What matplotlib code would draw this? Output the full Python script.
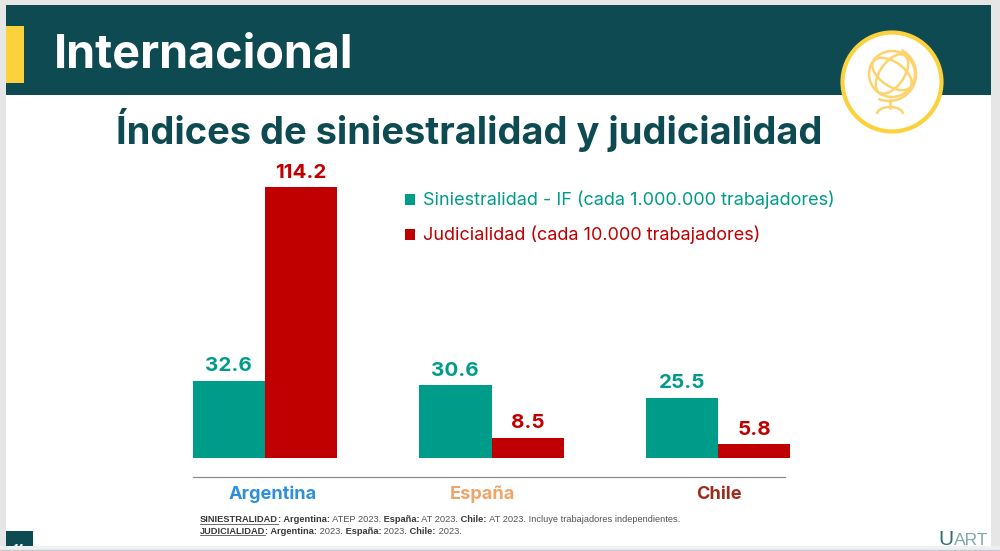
# Slide "Internacional": grouped bars with header, globe badge and footnotes
import numpy as np
import matplotlib
matplotlib.use("Agg")
import matplotlib.pyplot as plt
from matplotlib.patches import Rectangle, Circle, Ellipse, Arc

plt.rcParams['font.family'] = ['Inter', 'DejaVu Sans']

W, H = 1000, 551

paises = ["Argentina", "España", "Chile"]
siniestralidad = [32.6, 30.6, 25.5]
judicialidad = [114.2, 8.5, 5.8]
leyenda = ["Siniestralidad - IF (cada 1.000.000 trabajadores)",
           "Judicialidad (cada 10.000 trabajadores)"]
colores_pais = ["#2E8FDC", "#F0A468", "#9B2D1F"]
x_pais = [273, 482, 719]  # names are not centred on the groups in the slide

VERDE = "#009C8A"
ROJO = "#C00000"
OSCURO = "#0E4A52"
AMARILLO = "#FBD13C"

fig = plt.figure(figsize=(W / 100, H / 100), dpi=100, facecolor="#E6E6E6")

# background layer works in pixels, y going down like the picture
bg = fig.add_axes([0, 0, 1, 1])
bg.set_xlim(0, W)
bg.set_ylim(H, 0)
bg.axis("off")

bg.add_patch(Rectangle((6, 5), 985, 541, fc="white", ec="none"))
bg.add_patch(Rectangle((0, 546), W, 5, fc="#F0F0F0", ec="none", zorder=5))
bg.plot([0, W], [550, 550], color="#C4CAD0", lw=1, zorder=6)
bg.add_patch(Rectangle((6, 5), 985, 90, fc=OSCURO, ec="none"))
bg.add_patch(Rectangle((6, 26), 18, 57, fc=AMARILLO, ec="none"))
bg.text(54, 68, "Internacional", color="white", fontsize=33.6, fontweight="bold",
        va="baseline", ha="left")
bg.text(469.5, 144, "Índices de siniestralidad y judicialidad", color=OSCURO,
        fontsize=27.4, fontweight="bold", va="baseline", ha="center")

# globe badge
GLOBO = "#FDD36E"
bg.add_patch(Circle((892, 82), 49.5, fc="white", ec=AMARILLO, lw=3))
bg.add_patch(Circle((892, 74), 23, fc="none", ec=GLOBO, lw=1.8))
bg.add_patch(Ellipse((892, 74), 45, 24, angle=35, fc="none", ec=GLOBO, lw=1.8))
bg.add_patch(Ellipse((892, 74), 45, 24, angle=-55, fc="none", ec=GLOBO, lw=1.8))
bg.add_patch(Arc((889, 74), 54, 54, theta1=-63, theta2=113, ec=GLOBO, lw=1.8))
bg.plot([890, 890], [100, 108], color=GLOBO, lw=1.8)
bg.add_patch(Arc((890, 114), 26, 14, theta1=180, theta2=360, ec=GLOBO, lw=1.8))

# page number tab (number is cut by the window edge) and logo
bg.add_patch(Rectangle((6, 531), 27, 15, fc=OSCURO, ec="none"))
bg.text(19, 549, "14", color="white", fontsize=7, ha="center", va="center",
        fontweight="bold")
bg.text(953, 545, "U", color="#2F6E73", fontsize=15, va="baseline", ha="right",
        family=["Liberation Sans"])
bg.text(988, 545, "ART", color="#7FA9A8", fontsize=12.6, va="baseline", ha="right",
        family=["Liberation Sans"])

# legend
for yy, txt, col in zip([199, 234], leyenda, [VERDE, ROJO]):
    bg.add_patch(Rectangle((405, yy - 5), 10, 11, fc=col, ec="none"))
    bg.text(423, yy + 1, txt, color=col, fontsize=13, va="center", ha="left")

# rule above the country names
bg.plot([193, 785], [477, 477], color="#8A8A8A", lw=0.9)
for xx, nombre, col in zip(x_pais, paises, colores_pais):
    bg.text(xx, 499, nombre, color=col, fontsize=13.1, fontweight="bold",
            ha="center", va="baseline")

# footnotes
PIE = "#555555"
linea1 = [("SINIESTRALIDAD", True), (": Argentina:", True), (" ATEP 2023.", False),
          (" España:", True), (" AT 2023.", False), (" Chile:", True),
          (" AT 2023. Incluye trabajadores independientes.", False)]
linea2 = [("JUDICIALIDAD", True), (": Argentina:", True), (" 2023.", False),
          (" España:", True), (" 2023.", False), (" Chile:", True), (" 2023.", False)]
r = fig.canvas.get_renderer()
for yy, linea in zip([520, 531], [linea1, linea2]):
    x = 199.5
    for i, (txt, neg) in enumerate(linea):
        t = bg.text(x, yy, txt, color="#3A3A3A" if neg else PIE, fontsize=6.7,
                    va="center", ha="left", fontweight="bold" if neg else "normal",
                    family=["Liberation Sans"])
        w = t.get_window_extent(r).width
        if i == 0:
            bg.plot([x, x + w], [yy + 3.5, yy + 3.5], color=PIE, lw=0.6)
        x += w

# bar chart, axes box placed so that the baseline sits at y=458
ax = fig.add_axes([152 / W, (H - 458) / H, 680 / W, 308 / H])
ax.patch.set_alpha(0)
x = np.arange(len(paises))
ancho = 0.32
b1 = ax.bar(x - ancho / 2, siniestralidad, ancho, color=VERDE)
b2 = ax.bar(x + ancho / 2, judicialidad, ancho, color=ROJO)
ax.bar_label(b1, fmt="%.1f", color=VERDE, fontsize=14.8, fontweight="bold", padding=4)
ax.bar_label(b2, fmt="%.1f", color=ROJO, fontsize=14.8, fontweight="bold", padding=4)
ax.set_xlim(-113 / 226.5, 567 / 226.5)
ax.set_ylim(0, 308 / 2.37)
ax.set_xticks([])
ax.set_yticks([])
for s in ax.spines.values():
    s.set_visible(False)

fig.savefig("out.png", dpi=100, facecolor=fig.get_facecolor())
